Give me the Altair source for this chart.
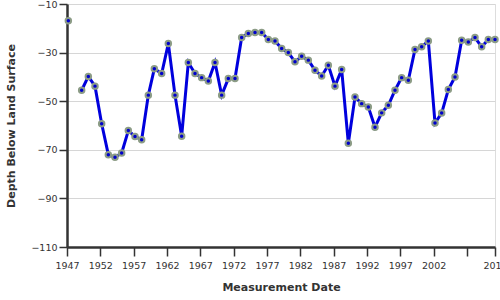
import altair as alt
import pandas as pd

years = [1947.2, 1949.2, 1950.2, 1951.2, 1952.2, 1953.2, 1954.2, 1955.2, 1956.2, 1957.2,
         1958.2, 1959.2, 1960.1, 1961.2, 1962.2, 1963.2, 1964.2, 1965.2, 1966.2, 1967.2,
         1968.2, 1969.2, 1970.2, 1971.2, 1972.2, 1973.2, 1974.2, 1975.2, 1976.2, 1977.2,
         1978.2, 1979.2, 1980.2, 1981.2, 1982.2, 1983.2, 1984.2, 1985.2, 1986.2, 1987.2,
         1988.2, 1989.2, 1990.2, 1991.2, 1992.2, 1993.2, 1994.2, 1995.2, 1996.2, 1997.2,
         1998.2, 1999.2, 2000.2, 2001.2, 2002.2, 2003.2, 2004.2, 2005.2, 2006.2, 2007.2,
         2008.2, 2009.2, 2010.2, 2011.2]
depths = [-16.9, -45.5, -39.8, -43.8, -59.3, -72.0, -73.1, -71.3, -62.1, -64.5,
          -65.9, -47.5, -36.6, -38.6, -26.3, -47.5, -64.4, -34.1, -38.6, -40.3,
          -41.7, -34.1, -47.5, -40.7, -40.7, -23.8, -22.1, -21.7, -21.7, -24.6,
          -25.2, -28.3, -30.0, -33.8, -31.5, -33.1, -37.3, -39.6, -35.2, -43.8,
          -37.0, -67.3, -48.3, -51.0, -52.4, -60.7, -54.8, -51.7, -45.5, -40.3,
          -41.4, -28.7, -27.6, -25.2, -59.0, -54.9, -45.2, -40.0, -24.9, -25.6,
          -23.8, -27.6, -24.6, -24.6]
x_ticks = [1947, 1952, 1957, 1962, 1967, 1972, 1977, 1982, 1987, 1992, 1997, 2002, 2007, 2011.2]
y_ticks = [-110, -90, -70, -50, -30, -10]

df = pd.DataFrame({"year": years, "depth": depths})

FONT = "DejaVu Sans"

x = alt.X("year:Q", scale=alt.Scale(domain=[1947, 2011.2], nice=False, zero=False),
          axis=alt.Axis(title="Measurement Date", values=x_ticks, format="d",
                        labelExpr="datum.value == 2007 ? '' : (datum.value > 2010 ? '2011' : datum.label)",
                        grid=False, tickSize=9, labelPadding=4, domainWidth=2.5,
                        domainColor="#333", tickColor="#333", tickWidth=1.5,
                        labelFont=FONT, labelFontSize=9.5, labelColor="#333",
                        titleFont=FONT, titleFontSize=11, titleFontWeight="bold",
                        titleColor="#333", titlePadding=12, labelFlush=False))
y = alt.Y("depth:Q", scale=alt.Scale(domain=[-110, -10], nice=False, zero=False),
          axis=alt.Axis(title="Depth Below Land Surface", values=y_ticks,
                        grid=True, gridColor="#d6d6d6", tickSize=8, labelPadding=2,
                        domainWidth=2.5, domainColor="#333", tickColor="#333", tickWidth=1.5,
                        labelFont=FONT, labelFontSize=9.5, labelColor="#333",
                        titleFont=FONT, titleFontSize=11, titleFontWeight="bold",
                        titleColor="#333", titlePadding=14))

base = alt.Chart(df).transform_calculate(seg="datum.year < 1948 ? 0 : 1")

line = base.mark_line(color="#0000dd", strokeWidth=3).encode(x=x, y=y, detail="seg:N")
pts = base.mark_point(filled=True, fill="#0000cc", stroke="#8c9c86", strokeWidth=2,
                      size=30, opacity=1).encode(x=x, y=y)

chart = (line + pts).properties(
    width=428, height=243,
    autosize=alt.AutoSizeParams(type="none"),
    padding={"left": 67, "top": 4, "right": 5, "bottom": 53},
).configure_view(stroke="#333", strokeWidth=1).configure(background="white")

chart.save("out.html", embed_options={"renderer": "svg", "actions": False})
